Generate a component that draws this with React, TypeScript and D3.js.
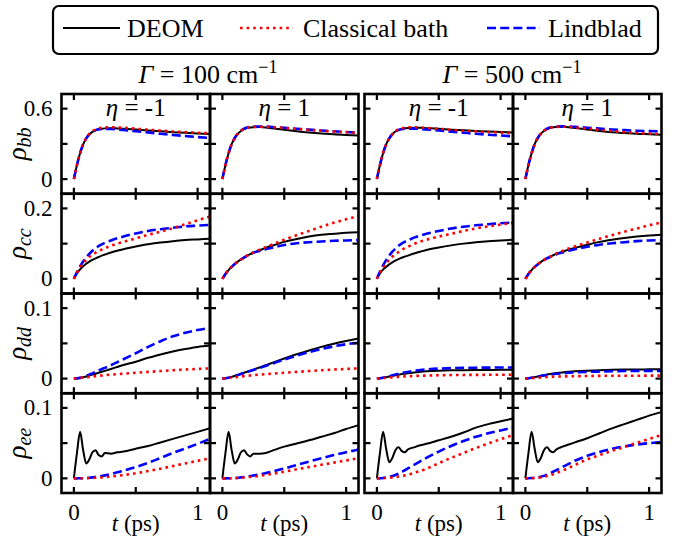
import * as d3 from 'd3';

// time grid (ps), shared by every curve
const t = [0, 0.025, 0.05, 0.075, 0.1, 0.125, 0.15, 0.175, 0.2, 0.225, 0.25, 0.3, 0.35, 0.4, 0.5, 0.6, 0.7, 0.8, 0.9, 1.0, 1.1];

// each array holds the 4 panel columns: [G100 eta-1, G100 eta1, G500 eta-1, G500 eta1]
const bbDeom = [
  [0, 0.12, 0.22, 0.295, 0.345, 0.38, 0.402, 0.415, 0.424, 0.429, 0.432, 0.434, 0.432, 0.429, 0.422, 0.414, 0.407, 0.4, 0.394, 0.389, 0.385],
  [0, 0.12, 0.22, 0.297, 0.35, 0.386, 0.41, 0.425, 0.434, 0.439, 0.442, 0.443, 0.44, 0.434, 0.421, 0.408, 0.397, 0.388, 0.381, 0.376, 0.372],
  [0, 0.12, 0.22, 0.296, 0.347, 0.382, 0.405, 0.419, 0.428, 0.433, 0.436, 0.438, 0.437, 0.434, 0.428, 0.421, 0.415, 0.41, 0.405, 0.401, 0.397],
  [0, 0.12, 0.22, 0.297, 0.35, 0.386, 0.41, 0.426, 0.435, 0.441, 0.444, 0.445, 0.442, 0.436, 0.422, 0.409, 0.399, 0.392, 0.386, 0.382, 0.378],
];
const bbClassical = [
  [0, 0.12, 0.22, 0.296, 0.348, 0.384, 0.408, 0.423, 0.432, 0.437, 0.44, 0.441, 0.44, 0.437, 0.429, 0.421, 0.413, 0.406, 0.4, 0.395, 0.39],
  [0, 0.12, 0.22, 0.297, 0.35, 0.386, 0.411, 0.427, 0.437, 0.442, 0.445, 0.446, 0.445, 0.442, 0.435, 0.427, 0.419, 0.412, 0.405, 0.399, 0.393],
  [0, 0.12, 0.22, 0.296, 0.348, 0.384, 0.408, 0.424, 0.433, 0.438, 0.441, 0.442, 0.44, 0.436, 0.428, 0.42, 0.413, 0.407, 0.401, 0.396, 0.392],
  [0, 0.12, 0.22, 0.297, 0.35, 0.386, 0.411, 0.427, 0.437, 0.442, 0.445, 0.446, 0.444, 0.44, 0.43, 0.419, 0.409, 0.4, 0.393, 0.388, 0.383],
];
const bbLindblad = [
  [0, 0.12, 0.22, 0.296, 0.347, 0.382, 0.404, 0.417, 0.424, 0.427, 0.428, 0.427, 0.423, 0.418, 0.408, 0.397, 0.386, 0.376, 0.367, 0.358, 0.35],
  [0, 0.12, 0.22, 0.297, 0.35, 0.387, 0.412, 0.429, 0.439, 0.444, 0.447, 0.448, 0.447, 0.444, 0.437, 0.429, 0.421, 0.414, 0.407, 0.401, 0.396],
  [0, 0.12, 0.22, 0.296, 0.347, 0.382, 0.404, 0.418, 0.425, 0.429, 0.43, 0.43, 0.427, 0.423, 0.414, 0.404, 0.395, 0.386, 0.378, 0.371, 0.364],
  [0, 0.12, 0.22, 0.297, 0.35, 0.387, 0.412, 0.429, 0.44, 0.445, 0.448, 0.449, 0.448, 0.445, 0.438, 0.43, 0.423, 0.417, 0.412, 0.409, 0.406],
];

const ccDeom = [
  [0, 0.016, 0.027, 0.036, 0.043, 0.049, 0.054, 0.058, 0.062, 0.066, 0.069, 0.075, 0.08, 0.084, 0.092, 0.098, 0.103, 0.107, 0.11, 0.112, 0.114],
  [0, 0.014, 0.025, 0.034, 0.042, 0.049, 0.055, 0.061, 0.066, 0.07, 0.074, 0.081, 0.088, 0.094, 0.105, 0.113, 0.12, 0.125, 0.128, 0.131, 0.132],
  [0, 0.015, 0.026, 0.034, 0.041, 0.047, 0.052, 0.056, 0.06, 0.063, 0.066, 0.072, 0.077, 0.082, 0.089, 0.095, 0.1, 0.104, 0.107, 0.109, 0.111],
  [0, 0.014, 0.025, 0.034, 0.041, 0.048, 0.054, 0.059, 0.063, 0.067, 0.071, 0.077, 0.083, 0.088, 0.097, 0.105, 0.111, 0.116, 0.12, 0.123, 0.125],
];
const ccClassical = [
  [0, 0.018, 0.032, 0.044, 0.054, 0.062, 0.069, 0.074, 0.079, 0.083, 0.087, 0.094, 0.1, 0.105, 0.115, 0.125, 0.134, 0.144, 0.155, 0.166, 0.177],
  [0, 0.014, 0.025, 0.034, 0.042, 0.049, 0.055, 0.061, 0.066, 0.071, 0.075, 0.083, 0.09, 0.097, 0.111, 0.124, 0.136, 0.148, 0.159, 0.169, 0.178],
  [0, 0.018, 0.032, 0.044, 0.054, 0.063, 0.07, 0.076, 0.082, 0.087, 0.091, 0.099, 0.106, 0.111, 0.12, 0.128, 0.136, 0.143, 0.149, 0.154, 0.159],
  [0, 0.014, 0.025, 0.034, 0.041, 0.048, 0.054, 0.059, 0.063, 0.068, 0.072, 0.079, 0.086, 0.092, 0.103, 0.114, 0.124, 0.134, 0.143, 0.152, 0.16],
];
const ccLindblad = [
  [0, 0.019, 0.035, 0.049, 0.061, 0.071, 0.08, 0.087, 0.093, 0.098, 0.102, 0.109, 0.115, 0.12, 0.129, 0.136, 0.141, 0.145, 0.149, 0.151, 0.153],
  [0, 0.014, 0.025, 0.034, 0.042, 0.049, 0.055, 0.06, 0.065, 0.07, 0.074, 0.079, 0.084, 0.088, 0.096, 0.101, 0.104, 0.106, 0.108, 0.109, 0.11],
  [0, 0.021, 0.038, 0.053, 0.066, 0.077, 0.086, 0.094, 0.1, 0.105, 0.109, 0.117, 0.123, 0.128, 0.136, 0.143, 0.148, 0.152, 0.155, 0.158, 0.16],
  [0, 0.014, 0.025, 0.034, 0.041, 0.048, 0.053, 0.058, 0.062, 0.066, 0.07, 0.075, 0.08, 0.084, 0.091, 0.097, 0.101, 0.104, 0.107, 0.109, 0.11],
];

const ddDeom = [
  [0, 0.0003, 0.001, 0.002, 0.003, 0.0045, 0.0058, 0.007, 0.0083, 0.0097, 0.011, 0.0137, 0.0165, 0.0193, 0.024, 0.0295, 0.0342, 0.0385, 0.042, 0.045, 0.047],
  [0, 0.0004, 0.0012, 0.0024, 0.0038, 0.0053, 0.0068, 0.0083, 0.0098, 0.0113, 0.0128, 0.0158, 0.019, 0.0222, 0.0285, 0.0345, 0.04, 0.045, 0.0495, 0.0535, 0.057],
  [0, 0.0005, 0.0012, 0.002, 0.003, 0.004, 0.0048, 0.0056, 0.0064, 0.007, 0.0077, 0.0088, 0.0096, 0.0103, 0.0112, 0.0117, 0.012, 0.0122, 0.0123, 0.0124, 0.0124],
  [0, 0.0005, 0.0012, 0.002, 0.003, 0.0039, 0.0048, 0.0057, 0.0065, 0.0072, 0.0078, 0.0088, 0.0096, 0.0103, 0.0113, 0.012, 0.0125, 0.0128, 0.013, 0.0131, 0.0132],
];
const ddClassical = [
  [0, 0.0005, 0.001, 0.0015, 0.002, 0.0025, 0.003, 0.0035, 0.004, 0.0044, 0.0048, 0.0056, 0.0063, 0.007, 0.0083, 0.0095, 0.0107, 0.0118, 0.0128, 0.0137, 0.0145],
  [0, 0.0005, 0.001, 0.0015, 0.002, 0.0025, 0.003, 0.0035, 0.004, 0.0044, 0.0048, 0.0056, 0.0063, 0.007, 0.0083, 0.0095, 0.0107, 0.0118, 0.0128, 0.0137, 0.0145],
  [0, 0.0004, 0.0008, 0.0012, 0.0015, 0.0019, 0.0022, 0.0025, 0.0028, 0.0031, 0.0033, 0.0037, 0.004, 0.0043, 0.0047, 0.005, 0.0052, 0.0053, 0.0054, 0.0055, 0.0055],
  [0, 0.0003, 0.0006, 0.001, 0.0013, 0.0016, 0.0019, 0.0022, 0.0024, 0.0026, 0.0028, 0.003, 0.0032, 0.0034, 0.0037, 0.0039, 0.004, 0.0041, 0.0041, 0.0042, 0.0042],
];
const ddLindblad = [
  [0, 0.0003, 0.001, 0.0022, 0.0037, 0.0055, 0.0075, 0.0095, 0.0117, 0.0135, 0.0152, 0.019, 0.0232, 0.0275, 0.036, 0.045, 0.053, 0.06, 0.065, 0.069, 0.072],
  [0, 0.0004, 0.0012, 0.0024, 0.0037, 0.0051, 0.0065, 0.008, 0.0094, 0.0108, 0.0122, 0.015, 0.018, 0.021, 0.027, 0.0325, 0.0375, 0.042, 0.0458, 0.0488, 0.051],
  [0, 0.0005, 0.0013, 0.0024, 0.0035, 0.0047, 0.0058, 0.0068, 0.0078, 0.0087, 0.0095, 0.011, 0.0121, 0.013, 0.0142, 0.0149, 0.0153, 0.0155, 0.0156, 0.0157, 0.0157],
  [0, 0.0005, 0.0012, 0.002, 0.003, 0.0038, 0.0045, 0.0052, 0.0058, 0.0063, 0.0068, 0.0075, 0.0082, 0.0087, 0.0095, 0.01, 0.0104, 0.0107, 0.0109, 0.011, 0.011],
];

const eeDeom = [
  [0, 0.036, 0.066, 0.04, 0.021, 0.027, 0.037, 0.04, 0.033, 0.031, 0.036, 0.035, 0.037, 0.038, 0.042, 0.046, 0.051, 0.056, 0.061, 0.066, 0.071],
  [0, 0.036, 0.066, 0.04, 0.021, 0.027, 0.037, 0.04, 0.034, 0.031, 0.035, 0.035, 0.036, 0.039, 0.045, 0.0495, 0.054, 0.059, 0.064, 0.07, 0.0755],
  [0, 0.036, 0.066, 0.042, 0.023, 0.029, 0.04, 0.044, 0.039, 0.037, 0.041, 0.044, 0.047, 0.049, 0.054, 0.059, 0.065, 0.072, 0.077, 0.081, 0.085],
  [0, 0.036, 0.066, 0.042, 0.023, 0.029, 0.04, 0.044, 0.039, 0.037, 0.041, 0.045, 0.048, 0.051, 0.057, 0.064, 0.071, 0.077, 0.083, 0.089, 0.094],
];
const eeClassical = [
  [0, 0, 0, 0.0001, 0.0002, 0.0004, 0.0006, 0.0008, 0.001, 0.0013, 0.0016, 0.0025, 0.0035, 0.0047, 0.0072, 0.0103, 0.0137, 0.0175, 0.0212, 0.0248, 0.0283],
  [0, 0, 0, 0.0001, 0.0003, 0.0005, 0.0008, 0.0011, 0.0015, 0.002, 0.0025, 0.0035, 0.0048, 0.0062, 0.0095, 0.0128, 0.016, 0.0192, 0.0223, 0.0254, 0.0285],
  [0, 0.0001, 0.0002, 0.0005, 0.0008, 0.0013, 0.0018, 0.0025, 0.0032, 0.0042, 0.0052, 0.0077, 0.0105, 0.0135, 0.0215, 0.029, 0.036, 0.043, 0.0495, 0.0555, 0.0615],
  [0, 0.0001, 0.0002, 0.0004, 0.0008, 0.0014, 0.0022, 0.0032, 0.0045, 0.0059, 0.0075, 0.011, 0.0148, 0.019, 0.027, 0.033, 0.039, 0.0445, 0.0505, 0.056, 0.0615],
];
const eeLindblad = [
  [0, 0, 0.0001, 0.0002, 0.0005, 0.0009, 0.0014, 0.002, 0.0026, 0.0034, 0.0042, 0.0062, 0.0085, 0.011, 0.016, 0.022, 0.029, 0.036, 0.0425, 0.049, 0.056],
  [0, 0, 0.0001, 0.0003, 0.0005, 0.0009, 0.0014, 0.0019, 0.0025, 0.0032, 0.004, 0.0055, 0.0074, 0.0095, 0.014, 0.019, 0.0238, 0.0285, 0.033, 0.037, 0.041],
  [0, 0.0001, 0.0005, 0.0012, 0.002, 0.0033, 0.0048, 0.0068, 0.009, 0.0115, 0.014, 0.019, 0.024, 0.029, 0.038, 0.046, 0.053, 0.059, 0.064, 0.068, 0.072],
  [0, 0.0001, 0.0004, 0.0009, 0.0015, 0.0024, 0.0035, 0.0052, 0.0072, 0.0093, 0.0115, 0.016, 0.0205, 0.025, 0.032, 0.0375, 0.042, 0.0455, 0.048, 0.05, 0.0515],
];

const stateNames = ['bb', 'cc', 'dd', 'ee'];
const rowMax = [0.6, 0.2, 0.1, 0.1];
const yTicks = [[0, 0.3, 0.6], [0, 0.1, 0.2], [0, 0.05, 0.1], [0, 0.05, 0.1]];
const yTickLabels = [['0', '0.6'], ['0', '0.2'], ['0', '0.1'], ['0', '0.1']];
const xTicks = [0, 0.5, 1];
const xTickLabels = ['0', '1'];
const etaLabels = ['-1', '1', '-1', '1'];
const gammaLabels = ['100', '500'];
const seriesNames = ['DEOM', 'Classical bath', 'Lindblad'];

const deomRows = [bbDeom, ccDeom, ddDeom, eeDeom];
const classicalRows = [bbClassical, ccClassical, ddClassical, eeClassical];
const lindbladRows = [bbLindblad, ccLindblad, ddLindblad, eeLindblad];

const FONT = { fontFamily: '"Liberation Serif"' };
const colX = [61.5, 210, 364.5, 513];
const PW = 148.5;
const TOP = 94;
const PH = 99.75;
const TICK = 6;

const styles = [
  { stroke: '#000000', width: 2, dash: undefined as string | undefined },
  { stroke: '#ff0000', width: 2.6, dash: '2.6 4' },
  { stroke: '#0000ff', width: 2.6, dash: '9 4.2' },
];

export default function App() {
  const x = d3.scaleLinear().domain([-0.1, 1.1]).range([0, PW]);

  const panels = [];
  for (let r = 0; r < 4; r++) {
    const m = rowMax[r];
    const y = d3.scaleLinear().domain([-m * 0.208, m * 1.208]).range([PH, 0]);
    const line = d3
      .line<number>()
      .x((_, i) => x(t[i]))
      .y(v => y(v))
      .curve(d3.curveMonotoneX);
    for (let c = 0; c < 4; c++) {
      const px = colX[c];
      const py = TOP + r * PH;
      // draw order: DEOM, Lindblad, Classical (dots on top)
      const series = [
        { d: deomRows[r][c], s: styles[0] },
        { d: lindbladRows[r][c], s: styles[2] },
        { d: classicalRows[r][c], s: styles[1] },
      ];
      panels.push(
        <g key={`p${r}${c}`} transform={`translate(${px},${py})`}>
          <clipPath id={`clip${r}${c}`}>
            <rect x={0} y={0} width={PW} height={PH} />
          </clipPath>
          <g clipPath={`url(#clip${r}${c})`}>
            {series.map((sr, k) => (
              <path
                key={k}
                d={line(sr.d) || ''}
                fill="none"
                stroke={sr.s.stroke}
                strokeWidth={sr.s.width}
                strokeDasharray={sr.s.dash}
                strokeLinejoin="round"
              />
            ))}
          </g>
          {yTicks[r].map(v => (
            <g key={`y${v}`} stroke="#000" strokeWidth={2.2}>
              <line x1={0} x2={TICK} y1={y(v)} y2={y(v)} />
              <line x1={PW - TICK} x2={PW} y1={y(v)} y2={y(v)} />
            </g>
          ))}
          {xTicks.map(v => (
            <g key={`x${v}`} stroke="#000" strokeWidth={2.2}>
              <line x1={x(v)} x2={x(v)} y1={0} y2={TICK} />
              <line x1={x(v)} x2={x(v)} y1={PH - TICK} y2={PH} />
            </g>
          ))}
          <rect x={0} y={0} width={PW} height={PH} fill="none" stroke="#000" strokeWidth={2.6} />
          {r === 0 && (
            <text x={PW / 2} y={22} textAnchor="middle" fontSize={25} style={FONT}>
              <tspan fontStyle="italic">η</tspan> = {etaLabels[c]}
            </text>
          )}
          {c === 0 &&
            [yTicks[r][0], yTicks[r][2]].map((v, k) => (
              <text key={`yl${k}`} x={-9} y={y(v) + 7.5} textAnchor="end" fontSize={23} style={FONT}>
                {yTickLabels[r][k]}
              </text>
            ))}
          {c === 0 && (
            <text transform={`translate(-36,${PH / 2}) rotate(-90)`} textAnchor="middle" fontSize={27} style={FONT}>
              <tspan fontStyle="italic">ρ</tspan>
              <tspan fontStyle="italic" fontSize={20} dy={5}>{stateNames[r]}</tspan>
            </text>
          )}
          {r === 3 && (
            <g fontSize={23}>
              <text x={x(0)} y={PH + 27} textAnchor="middle" style={FONT}>{xTickLabels[0]}</text>
              <text x={x(1)} y={PH + 27} textAnchor="middle" style={FONT}>{xTickLabels[1]}</text>
              <text x={PW / 2} y={PH + 38} textAnchor="middle" style={FONT}>
                <tspan fontStyle="italic">t</tspan> (ps)
              </text>
            </g>
          )}
        </g>,
      );
    }
  }

  const legendItems = [
    { x0: 63, x1: 120, tx: 127 },
    { x0: 240, x1: 293, tx: 303 },
    { x0: 487, x1: 540, tx: 548 },
  ];

  return (
    <svg width={675} height={540} style={{ position: 'absolute', left: 0, top: 0, background: '#fff' }}>
      <rect x={0} y={0} width={675} height={540} fill="#fff" />
      <rect x={53} y={6} width={605} height={48} rx={6} fill="#fff" stroke="#000" strokeWidth={2.2} />
      {legendItems.map((it, k) => (
        <g key={k}>
          <line
            x1={it.x0}
            x2={it.x1}
            y1={28}
            y2={28}
            stroke={styles[k].stroke}
            strokeWidth={styles[k].width}
            strokeDasharray={styles[k].dash}
          />
          <text x={it.tx} y={37} fontSize={26} style={FONT}>
            {seriesNames[k]}
          </text>
        </g>
      ))}
      {gammaLabels.map((g, k) => (
        <text key={g} x={k === 0 ? 208 : 512} y={83} textAnchor="middle" fontSize={26} style={FONT}>
          <tspan fontStyle="italic">Γ</tspan> = {g} cm
          <tspan fontSize={18} dy={-10}>−1</tspan>
        </text>
      ))}
      {panels}
    </svg>
  );
}
